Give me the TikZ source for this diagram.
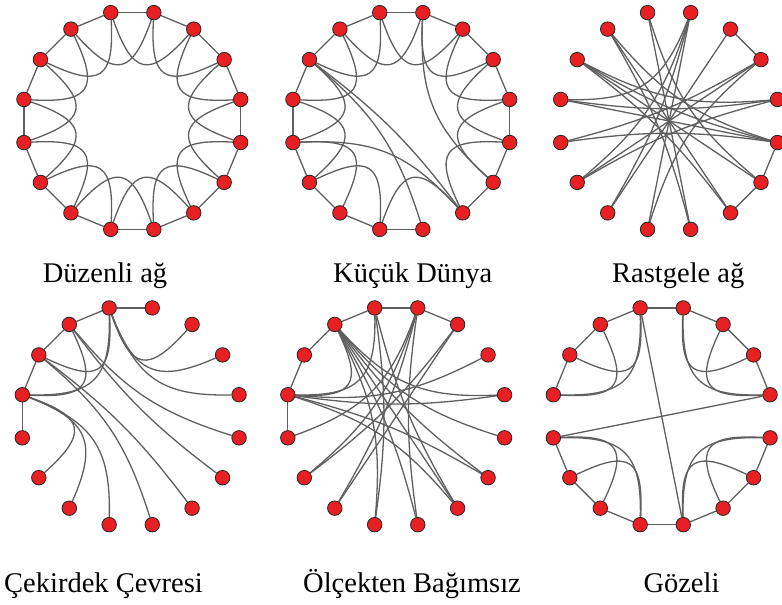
\documentclass[tikz,border=0pt]{standalone}
\usepackage{fontspec}
\newfontfamily\labfont{Liberation Serif}
\usetikzlibrary{calc}
\definecolor{nodered}{RGB}{232,32,36}
\definecolor{edgegray}{RGB}{95,95,95}
\pgfdeclarelayer{bg}
\pgfsetlayers{bg,main}
\tikzset{
  nd/.style={circle, fill=nodered, draw=black!85, line width=0.8pt, minimum size=14.5pt, inner sep=0pt},
  edge/.style={draw=edgegray, line width=1.3pt},
  lab/.style={anchor=base west, inner sep=0pt, font=\labfont\fontsize{28.5}{30}\selectfont}
}
\newcommand\ce[3]{\draw[edge] (#1#2) .. controls ($0.56*(#1c)+0.32*(#1#2)+0.12*(#1#3)$) and ($0.56*(#1c)+0.12*(#1#2)+0.32*(#1#3)$) .. (#1#3);}
\newcommand\se[3]{\draw[edge] (#1#2) -- (#1#3);}
\begin{document}
\begin{tikzpicture}[x=1pt,y=-1pt]
\useasboundingbox (0,0) rectangle (782,605);
\coordinate (ac) at (132.3,121);
\coordinate (bc) at (401.3,121);
\coordinate (cc) at (669.1,121);
\coordinate (dc) at (130.7,416.3);
\coordinate (ec) at (396.2,416.3);
\coordinate (fc) at (661.7,416.3);
\foreach \p in {a,b,c,d,e,f}{
  \foreach \k in {0,...,15}{
    \node[nd] (\p\k) at ($(\p c)+({11.25+22.5*\k}:110.5pt)$) {};
  }
}
\begin{pgfonlayer}{bg}
% panel a: regular ring lattice
\foreach \k in {0,...,15}{
  \pgfmathtruncatemacro\ja{mod(\k+1,16)}
  \pgfmathtruncatemacro\jb{mod(\k+2,16)}
  \se{a}{\k}{\ja}
  \ce{a}{\k}{\jb}
}
% panel b: small world
\foreach \i/\j in {0/1,1/2,2/3,3/4,4/5,5/6,6/7,7/8,8/9,9/10,10/11,11/12,13/14,14/15,15/0}{\se{b}{\i}{\j}}
\foreach \i/\j in {0/2,1/3,2/4,3/5,4/6,5/7,6/8,7/9,8/10,9/11,11/13,13/15,14/0,15/1,6/13,8/13,3/14,6/12}{\ce{b}{\i}{\j}}
% panel c: random
\foreach \i/\j in {1/2,14/15,13/14}{\se{c}{\i}{\j}}
\foreach \i/\j in {7/0,7/15,7/3,8/15,8/1,6/0,6/15,6/13,6/14,5/13,5/12,5/15,4/12,4/14,3/9,3/10,3/11,2/10,1/9,1/11,0/9}{\ce{c}{\i}{\j}}
% panel d: core-periphery
\foreach \i/\j in {3/4,4/5,5/6,6/7,7/8}{\se{d}{\i}{\j}}
\foreach \i/\j in {4/6,4/7,5/7,4/2,4/1,4/0,5/15,5/14,6/13,6/12,7/11,7/10,7/9}{\ce{d}{\i}{\j}}
% panel e: scale free
\foreach \i/\j in {2/3,3/4,4/5,5/6,6/7,7/8}{\se{e}{\i}{\j}}
\foreach \i/\j in {5/7,5/11,5/12,5/13,5/14,5/15,5/0,7/0,7/1,7/14,7/13,7/4,3/8,3/9,3/10,3/12,4/11,4/13,2/9,2/10}{\ce{e}{\i}{\j}}
% panel f: modular
\foreach \i/\j in {0/1,1/2,2/3,3/4,4/5,5/6,6/7,8/9,9/10,10/11,11/12,12/13,13/14,14/15,4/12,8/0}{\se{f}{\i}{\j}}
\foreach \i/\j in {3/1,3/0,2/0,4/6,4/7,5/7,8/10,8/11,9/11,12/14,12/15,13/15}{\ce{f}{\i}{\j}}
\end{pgfonlayer}
\node[lab] (l1) at (42.7,282) {Düzenli ağ};
\node[lab] (l2) at (333,282) {Küçük Dünya};
\node[lab] (l3) at (612,282) {Rastgele ağ};
\node[lab] (l4) at (4,592) {Çekirdek Çevresi};
\node[lab] (l5) at (303,592) {Ölçekten Bağımsız};
\node[lab] (l6) at (643.3,592) {Gözeli};
\end{tikzpicture}
\end{document}
